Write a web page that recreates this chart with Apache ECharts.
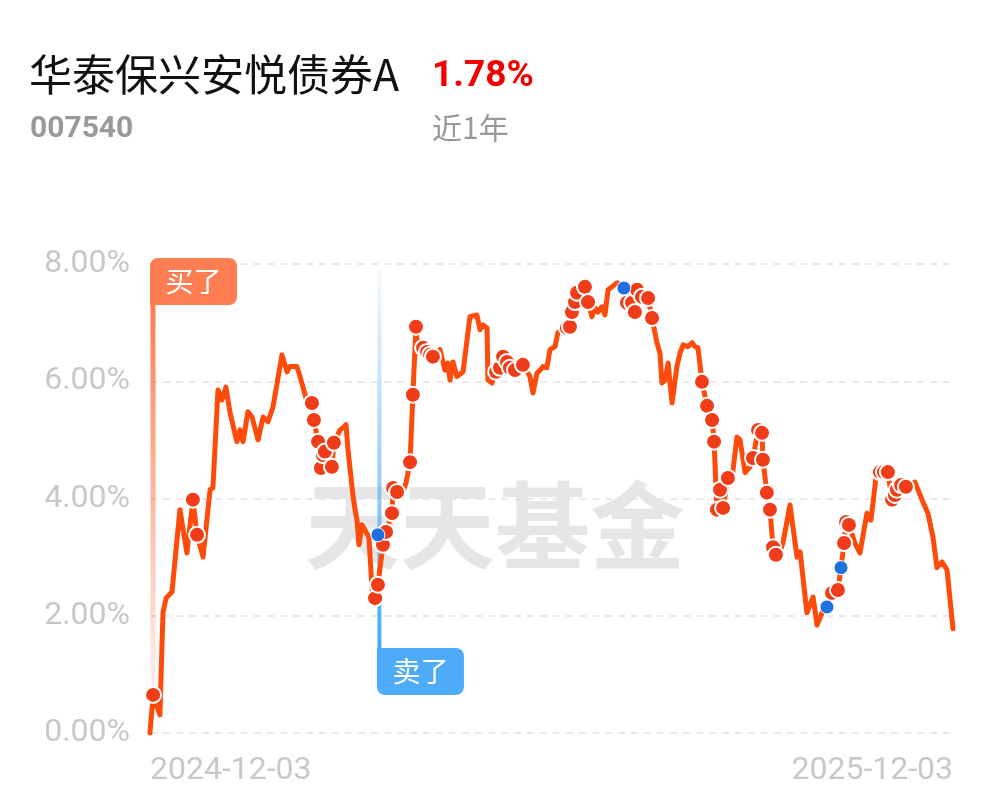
<!DOCTYPE html>
<html><head><meta charset="utf-8">
<script src="https://cdn.jsdelivr.net/npm/echarts@6/dist/echarts.min.js"></script>
<style>html,body{margin:0;padding:0;background:#fff}#c{width:997px;height:802px}</style>
</head><body><div id="c"></div>
<script>
// ---- data ----
const fundName = '华泰保兴安悦债券A';
const fundCode = '007540';
const periodReturn = '1.78%';
const periodLabel = '近1年';
const tickLabels = ['2024-12-03', '2025-12-03'];
// days since 2024-12-03
const lineDays = [0,1.4,4.5,5.9,7.3,10,13.6,16.8,19.5,21.4,24.1,27.3,28.6,30.9,32.7,34.5,36.4,39.5,40.9,42.3,44.5,46.4,49.1,51.4,53.6,55.9,60,62.3,63.6,66.8,68.2,71.4,73.6,74.5,76.4,77.7,78.6,79.5,82.7,83.6,86.4,88.2,89.1,90,92.3,93.2,94.1,95,96.4,98.2,99.5,100.9,102.3,103.6,105.9,107.3,110,110.5,112.3,114.5,116.4,118.2,119.5,120.9,121.8,124.1,125.9,127.3,128.6,131.8,134.1,135.4,136.4,137.7,139.5,142.3,145.4,148.6,150,151.4,153.2,153.6,155.4,157.3,159.1,160.5,162.3,163.6,165.9,167.7,169.5,172.7,174.1,175.9,177.3,178.6,180.4,181.8,184.1,185.4,189.5,190.9,191.8,193.2,194.1,197.7,199.1,200.9,202.3,203.6,205.4,206.8,208.2,210,212.3,215.4,216.8,219.1,220.4,221.4,223.6,226.4,228.2,230.4,231.8,232.7,234.1,235.5,237.3,239.5,240.9,242.3,244.5,246.4,247.7,249.1,250.9,253.2,255.5,256.4,257.7,259.1,260.5,262.7,264.5,266.8,268.2,270.5,272.7,274.1,276.4,278.2,278.6,280.4,281.8,283.2,284.5,285.4,287.7,290.9,294.1,295.5,298.6,301.4,303.2,305.5,307.7,310,312.7,314.1,315.5,316.4,317.7,320.4,322.7,325.9,327.7,330.4,331.8,333.6,335.4,337.3,338.6,339.5,341.4,343.6,347.7,350.9,353.6,355.9,357.7,360,362.3,365];
const lineValues = [0,0.65,0.31,2.05,2.3,2.41,3.81,3.07,3.98,3.38,3.0,4.15,4.18,5.85,5.68,5.9,5.46,4.97,5.17,4.97,5.48,5.39,5.0,5.39,5.31,5.56,6.45,6.16,6.25,6.25,6.08,5.65,5.63,5.34,4.97,4.52,4.74,4.8,4.54,4.95,5.17,5.22,5.26,4.83,4.03,3.81,3.63,3.21,3.55,3.43,3.34,2.47,2.3,2.53,3.21,3.43,3.75,4.18,4.11,4.06,4.27,4.62,5.77,6.93,6.48,6.57,6.5,6.45,6.42,6.54,6.19,6.31,6.02,6.33,6.08,6.16,7.1,7.13,6.88,6.96,6.91,6.02,5.97,6.16,6.23,6.42,6.33,6.23,6.19,6.16,6.28,6.08,5.8,6.14,6.19,6.25,6.23,6.54,6.59,6.83,6.91,6.93,7.18,7.35,7.51,7.61,7.35,7.1,7.25,7.18,7.27,7.13,7.56,7.61,7.68,7.59,7.34,7.34,7.18,7.56,7.44,7.42,7.08,6.66,6.48,5.97,6.02,6.31,5.63,6.25,6.48,6.62,6.59,6.66,6.59,6.57,5.99,5.58,5.34,4.97,3.81,4.15,3.84,4.35,4.32,5.05,5.0,4.44,4.54,4.69,5.17,5.12,4.66,4.1,3.81,3.17,3.04,3.0,3.24,3.89,3.0,3.09,2.05,2.32,1.84,2.05,2.15,2.39,2.44,2.82,3.24,3.6,3.55,3.24,3.07,3.75,3.63,4.49,4.45,4.45,4.45,3.98,4.06,4.15,4.23,4.2,4.28,3.98,3.75,3.34,2.82,2.92,2.78,1.78];
const buyDays = [1.4,19.5,21.4,73.6,74.5,76.4,77.7,78.6,79.5,82.7,83.6,102.3,103.6,105.9,107.3,110,110.5,112.3,118.2,119.5,120.9,124.1,125.9,127.3,128.6,157.3,159.1,160.5,162.3,163.6,165.9,169.5,189.5,190.9,191.8,193.2,194.1,197.7,199.1,216.8,219.1,220.4,221.4,223.6,226.4,228.2,250.9,253.2,255.5,256.4,257.7,259.1,260.5,262.7,274.1,276.4,278.2,278.6,280.4,281.8,283.2,284.5,310,312.7,315.5,316.4,317.7,331.8,333.6,335.4,337.3,338.6,339.5,341.4,343.6];
const buyValues = [0.65,3.98,3.38,5.63,5.34,4.97,4.52,4.74,4.8,4.54,4.95,2.3,2.53,3.21,3.43,3.75,4.18,4.11,4.62,5.77,6.93,6.57,6.5,6.45,6.42,6.16,6.23,6.42,6.33,6.23,6.19,6.28,6.91,6.93,7.18,7.35,7.51,7.61,7.35,7.34,7.34,7.18,7.56,7.44,7.42,7.08,5.99,5.58,5.34,4.97,3.81,4.15,3.84,4.35,4.69,5.17,5.12,4.66,4.1,3.81,3.17,3.04,2.39,2.44,3.24,3.6,3.55,4.45,4.45,4.45,3.98,4.06,4.15,4.23,4.2];
const sellDays = [103.6,215.4,307.7,314.1];
const sellValues = [3.38,7.59,2.15,2.82];
const signalDays = [0, 103.6];
const signalTypes = ['买了', '卖了'];

// ---- chart ----
const chart = echarts.init(document.getElementById('c'));
const zip = (a, b) => a.map((d, i) => [d, b[i]]);
const FONT = 'Roboto, "Noto Sans CJK SC", sans-serif';

function renderSignal(params, api) {
  const day = api.value(0);
  const kind = api.value(1);
  const cs = params.coordSys;
  const x = api.coord([day, 0])[0];
  const boxW = 87, boxH = 47;
  if (kind === 0) {
    const top = cs.y - 6;
    const bottom = api.coord([day, 0.3])[1];
    return { type: 'group', children: [
      { type: 'rect', shape: { x: x + 0.5, y: top + boxH - 2, width: 5, height: bottom - top - boxH + 2 },
        style: { fill: new echarts.graphic.LinearGradient(0, 0, 0, 1, [
          { offset: 0, color: 'rgba(255,125,82,1)' }, { offset: 1, color: 'rgba(255,125,82,0.05)' }]) } },
      { type: 'rect', shape: { x: x, y: top, width: boxW, height: boxH, r: [8, 8, 8, 0] }, style: { fill: '#ff7d52' } },
      { type: 'text', style: { x: x + boxW / 2, y: top + boxH / 2, text: signalTypes[0], fill: '#fff',
        font: '28px "Noto Sans CJK SC"', align: 'center', verticalAlign: 'middle' } }
    ]};
  } else {
    const lineTop = cs.y + 6;
    const boxTop = api.coord([day, 1.45])[1];
    return { type: 'group', children: [
      { type: 'rect', shape: { x: x - 0.5, y: lineTop, width: 4, height: boxTop - lineTop },
        style: { fill: new echarts.graphic.LinearGradient(0, 0, 0, 1, [
          { offset: 0, color: 'rgba(74,168,245,0.05)' }, { offset: 1, color: 'rgba(74,168,245,1)' }]) } },
      { type: 'rect', shape: { x: x - 1, y: boxTop, width: boxW, height: boxH, r: [0, 8, 8, 8] }, style: { fill: '#4dabf7' } },
      { type: 'text', style: { x: x - 1 + boxW / 2, y: boxTop + boxH / 2, text: signalTypes[1], fill: '#fff',
        font: '28px "Noto Sans CJK SC"', align: 'center', verticalAlign: 'middle' } }
    ]};
  }
}

chart.setOption({
  animation: false,
  backgroundColor: '#fff',
  graphic: [
    { type: 'text', left: 29, top: 53, z: 10, style: { text: fundName, fill: '#111', font: '43px "Noto Sans CJK SC"' } },
    { type: 'text', left: 432, top: 58, z: 10, style: { text: periodReturn, fill: '#f20000', font: 'bold 37px Roboto' } },
    { type: 'text', left: 30, top: 114, z: 10, style: { text: fundCode, fill: '#999', font: 'bold 30px Roboto' } },
    { type: 'text', left: 432, top: 113, z: 10, style: { text: periodLabel, fill: '#999', font: '30px "Noto Sans CJK SC"' } },
    { type: 'text', left: 305, top: 478, z: 0, style: { text: '天天基金', fill: '#e6e6e6', font: 'bold 95px "Noto Sans CJK SC"' } }
  ],
  grid: { left: 150, right: 44, top: 264, bottom: 69 },
  xAxis: {
    type: 'value', min: 0, max: 365, interval: 365,
    axisLine: { show: false }, axisTick: { show: false }, splitLine: { show: false },
    axisLabel: { showMinLabel: true, showMaxLabel: true, alignMinLabel: 'left', alignMaxLabel: 'right',
      color: '#c8c8c8', fontSize: 32, fontFamily: FONT, margin: 22,
      formatter: v => (v === 0 ? tickLabels[0] : tickLabels[1]) }
  },
  yAxis: {
    type: 'value', min: 0, max: 8, interval: 2,
    axisLine: { show: false }, axisTick: { show: false },
    axisLabel: { color: '#c8c8c8', fontSize: 32, fontFamily: FONT, margin: 20, formatter: v => v.toFixed(2) + '%' },
    splitLine: { lineStyle: { color: '#e3e3e3', width: 1.5, type: [7, 6] } }
  },
  series: [
    { type: 'custom', z: 1, renderItem: renderSignal, data: signalDays.map((d, i) => [d, i]), silent: true },
    { type: 'line', z: 3, data: zip(lineDays, lineValues), showSymbol: false, symbol: 'none',
      lineStyle: { color: '#ff4b0a', width: 5, join: 'round', cap: 'round' } },
    { type: 'scatter', z: 4, data: zip(buyDays, buyValues), symbolSize: 16,
      itemStyle: { color: '#f03c18', borderColor: '#fff', borderWidth: 2, opacity: 1 } },
    { type: 'scatter', z: 5, data: zip(sellDays, sellValues), symbolSize: 14,
      itemStyle: { color: '#1f6fe0', borderColor: '#fff', borderWidth: 1, opacity: 1 } }
  ]
});
</script></body></html>
